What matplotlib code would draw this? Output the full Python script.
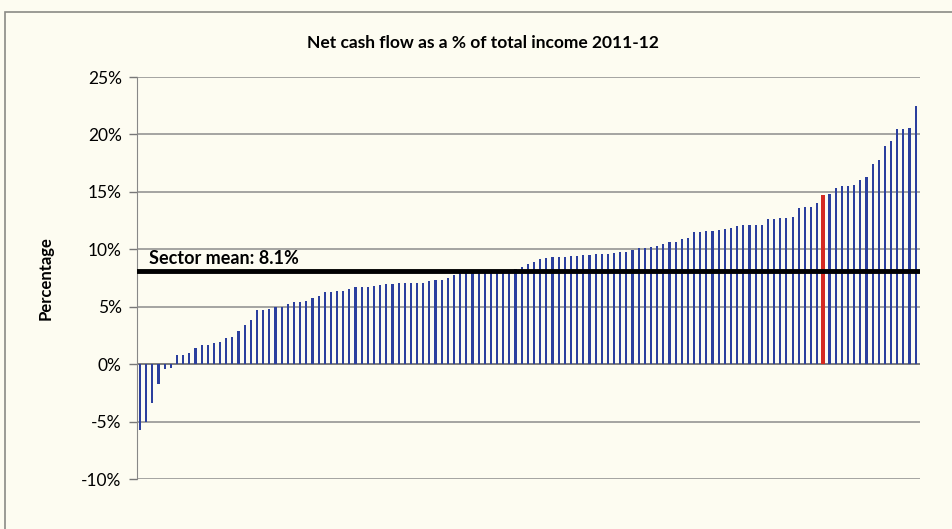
import matplotlib.pyplot as plt
from matplotlib.patches import Rectangle
from matplotlib.ticker import FuncFormatter

plt.rcParams['font.family'] = ['Lato', 'DejaVu Sans']

# net cash flow as % of total income, one value per institution, sorted
net_cash_flow = [
    -5.7, -5.0, -3.4, -1.75, -0.45, -0.35, 0.8, 0.8, 1.0, 1.4,
    1.65, 1.65, 1.85, 1.9, 2.25, 2.4, 2.9, 3.4, 3.8, 4.7,
    4.75, 4.8, 4.97, 5.0, 5.2, 5.4, 5.45, 5.5, 5.8, 5.95,
    6.3, 6.3, 6.4, 6.4, 6.5, 6.7, 6.7, 6.7, 6.8, 6.9,
    7.0, 7.0, 7.05, 7.1, 7.1, 7.1, 7.1, 7.2, 7.3, 7.35,
    7.5, 7.75, 7.9, 7.9, 8.0, 8.05, 8.1, 8.1, 8.15, 8.15,
    8.2, 8.3, 8.5, 8.7, 8.85, 9.15, 9.2, 9.3, 9.35, 9.35,
    9.45, 9.45, 9.5, 9.5, 9.6, 9.6, 9.6, 9.65, 9.75, 9.8,
    9.9, 10.1, 10.1, 10.2, 10.3, 10.5, 10.6, 10.65, 10.9, 10.95,
    11.5, 11.5, 11.55, 11.6, 11.7, 11.8, 11.85, 12.0, 12.1, 12.15,
    12.15, 12.15, 12.6, 12.65, 12.7, 12.75, 12.85, 13.6, 13.7, 13.7,
    14.0, 14.7, 14.8, 15.3, 15.5, 15.5, 15.6, 16.0, 16.3, 17.4,
    17.8, 19.0, 19.4, 20.5, 20.5, 20.6, 22.5,
]
highlight = 111
sector_mean = 8.1
y_ticks = [-10, -5, 0, 5, 10, 15, 20, 25]

fig = plt.figure(figsize=(9.53, 5.29), dpi=100)
fig.patch.set_facecolor('#fdfcf1')
fig.patches.append(Rectangle((5 / 953, -0.01), 1.0, 1 - 12 / 529 + 0.01,
                             transform=fig.transFigure, fill=False,
                             edgecolor='#8a8a86', linewidth=1.2))

ax = fig.add_axes([137 / 953, 1 - 479 / 529, (920 - 137) / 953, (479 - 77) / 529])
ax.set_facecolor('none')

xs = list(range(len(net_cash_flow)))
colors = ['#d42a22' if i == highlight else '#2b3f9e' for i in xs]
widths = [0.65 if i == highlight else 0.35 for i in xs]
ax.bar(xs, net_cash_flow, width=widths, color=colors, zorder=3)

ax.axhline(sector_mean, color='black', linewidth=3.5, zorder=4)
ax.text(1.5, sector_mean + 0.35, f'Sector mean: {sector_mean}%', fontsize=13,
        fontweight='bold', ha='left', va='bottom', zorder=5)

ax.set_xlim(-0.5, len(net_cash_flow) - 0.3)
ax.set_ylim(-10, 25)
ax.set_yticks(y_ticks)
ax.yaxis.set_major_formatter(FuncFormatter(lambda v, p: f'{v:.0f}%'))
ax.tick_params(axis='y', labelsize=12.5, length=6, width=1, color='#777777', pad=5)
ax.set_xticks([])
ax.grid(axis='y', color='#8c8c8c', linewidth=1.1, zorder=1)
for side in ['top', 'right', 'bottom']:
    ax.spines[side].set_visible(False)
ax.spines['left'].set_color('#888888')
ax.axhline(0, color='#777777', linewidth=1.2, zorder=2)

ax.set_ylabel('Percentage', fontsize=12, fontweight='bold', labelpad=20)
fig.text(483 / 953, 1 - 43 / 529, 'Net cash flow as a % of total income 2011-12',
         fontsize=12.5, fontweight='bold', ha='center', va='center')

fig.savefig('out.png', dpi=100, facecolor=fig.get_facecolor())
